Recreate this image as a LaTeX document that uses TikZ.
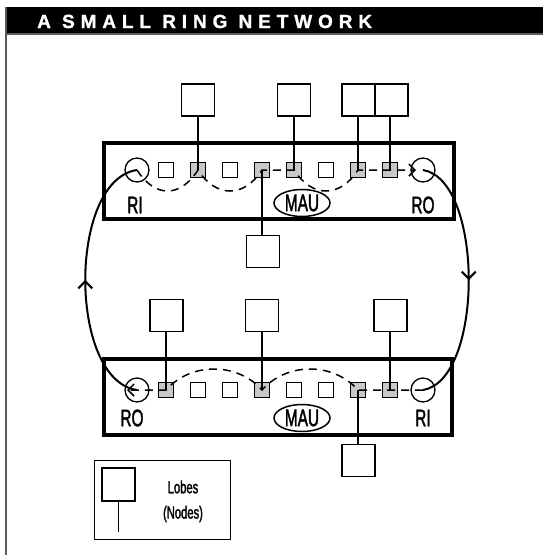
\documentclass[tikz,border=0pt]{standalone}
\usepackage{fontspec}
\setmainfont{Liberation Sans}
\newfontfamily\condfont[FakeStretch=0.64,FakeBold=1.6]{Liberation Sans}
\newfontfamily\titlefont[LetterSpace=31,FakeBold=1.2]{Liberation Sans Bold}
\usetikzlibrary{arrows.meta,decorations.markings,calc,shapes.geometric}
\definecolor{portgray}{RGB}{200,200,200}
\definecolor{framegray}{RGB}{90,90,90}
\tikzset{
  maubox/.style={draw, line width=4pt, inner sep=0pt},
  port/.style={draw, line width=1.3pt, minimum size=15pt, inner sep=0pt, fill=white},
  gport/.style={port, fill=portgray},
  lobe/.style={draw, line width=1.8pt, minimum width=33pt, minimum height=32pt, inner sep=0pt},
  ringc/.style={draw, circle, line width=1.3pt, minimum size=24pt, inner sep=0pt},
  lbl/.style={font=\condfont\fontsize{24}{24}\selectfont, inner sep=0pt},
  small/.style={font=\condfont\fontsize{17.5}{17.5}\selectfont, inner sep=0pt},
  mauell/.style={draw, ellipse, line width=1.5pt, minimum width=56pt, minimum height=27pt, inner sep=0pt, lbl},
  dashline/.style={line width=1.5pt, dash pattern=on 8pt off 6pt},
  wire/.style={line width=1.5pt},
  tipbarb/.tip={Straight Barb[length=6pt,width=12pt,line width=1.5pt]},
  ring/.style={line width=2pt, postaction=decorate,
    decoration={markings, mark=at position 0.5 with {\arrow{Straight Barb[length=7pt,width=14pt,line width=2pt]}}}}
}
\begin{document}
\begin{tikzpicture}[x=1pt,y=-1pt]
\useasboundingbox (0,0) rectangle (543,555);
% frame and title
\fill[black] (5,7) rectangle (543,33);
\draw[framegray, line width=2pt] (5,34.3) -- (543,34.3);
\draw[framegray, line width=2pt] (6,7) -- (6,555);
\node[anchor=base west, text=white, inner sep=0pt,
      font=\titlefont\fontsize{19}{19}\selectfont] (title) at (37,28) {A SMALL RING NETWORK};

% ---------- top MAU ----------
\node[maubox, minimum width=350pt, minimum height=76pt] (mauT) at (279,181) {};
\node[ringc] (tRI) at (137,170) {};
\node[ringc] (tRO) at (423,170) {};
\node[port]  (t1) at (166,170) {};
\node[gport] (t2) at (198,170) {};
\node[port]  (t3) at (230,170) {};
\node[gport] (t4) at (262,170) {};
\node[gport] (t5) at (294,170) {};
\node[port]  (t6) at (326,170) {};
\node[gport] (t7) at (358,170) {};
\node[gport] (t8) at (390,170) {};
\node[lbl] (tRIl) at (135,205) {RI};
\node[lbl] (tROl) at (423,205) {RO};
\node[mauell] (tMAU) at (302,203) {MAU};
\node[lobe] (tl1) at (198,100) {};
\node[lobe] (tl2) at (294,100) {};
\node[lobe] (tl3) at (358.5,100) {};
\node[lobe] (tl4) at (391.5,100) {};
\node[lobe] (tl5) at (263,251.5) {};
\draw[wire] (t2.center) -- (t2 |- tl1.south);
\draw[wire] (t5.center) -- (t5 |- tl2.south);
\draw[wire] (t7.center) -- (t7 |- tl3.south);
\draw[wire] (t8.center) -- (t8 |- tl4.south);
\draw[wire] (t4.center) -- (t4 |- tl5.north);
\draw[dashline, -tipbarb] (tRI.center)
  .. controls +(18,28) and +(-18,28) .. (t2.center)
  .. controls +(18,28) and +(-18,28) .. (t4.center)
  -- (t5.center)
  .. controls +(18,28) and +(-18,28) .. (t7.center)
  -- (t8.center) -- ($(tRO.center)+(-7,0)$);

% ---------- bottom MAU ----------
\node[maubox, minimum width=348pt, minimum height=76pt] (mauB) at (278,397) {};
\node[ringc] (bRO) at (137,390) {};
\node[ringc] (bRI) at (423,390) {};
\node[gport] (b1) at (166,390) {};
\node[port]  (b2) at (198,390) {};
\node[port]  (b3) at (230,390) {};
\node[gport] (b4) at (262,390) {};
\node[port]  (b5) at (294,390) {};
\node[port]  (b6) at (326,390) {};
\node[gport] (b7) at (358,390) {};
\node[gport] (b8) at (390,390) {};
\node[lbl] (bROl) at (132,418) {RO};
\node[lbl] (bRIl) at (423,418) {RI};
\node[mauell] (bMAU) at (302,418) {MAU};
\node[lobe] (bl1) at (166.5,315.5) {};
\node[lobe] (bl2) at (262,315.5) {};
\node[lobe] (bl3) at (390.5,315.5) {};
\node[lobe] (bl4) at (358.5,460.5) {};
\draw[wire] (b1.center) -- (b1 |- bl1.south);
\draw[wire] (b4.center) -- (b4 |- bl2.south);
\draw[wire] (b8.center) -- (b8 |- bl3.south);
\draw[wire] (b7.center) -- (b7 |- bl4.north);
\draw[dashline, -tipbarb] (bRI.center) -- (b8.center) -- (b7.center)
  .. controls +(-25,-28) and +(25,-28) .. (b4.center)
  .. controls +(-25,-28) and +(25,-28) .. (b1.center)
  -- ($(bRO.center)+(-10,0)$);

% ---------- outer ring ----------
\draw[ring] (bRO.center) .. controls (68,380) and (68,180) .. (tRI.center);
\draw[ring] (tRO.center) .. controls (484,180) and (484,380) .. (bRI.center);

% ---------- legend ----------
\node[draw, line width=1.3pt, minimum width=136pt, minimum height=79pt, inner sep=0pt] (legend) at (162.5,500) {};
\node[lobe, minimum height=33pt] (leglobe) at (118.5,484.5) {};
\coordinate (legend-end) at (118.5,532);
\draw[wire] (leglobe.south) -- (legend-end);
\node[small] (lobes) at (183,487) {Lobes};
\node[small] (nodes) at (183,514) {(Nodes)};
\end{tikzpicture}
\end{document}
